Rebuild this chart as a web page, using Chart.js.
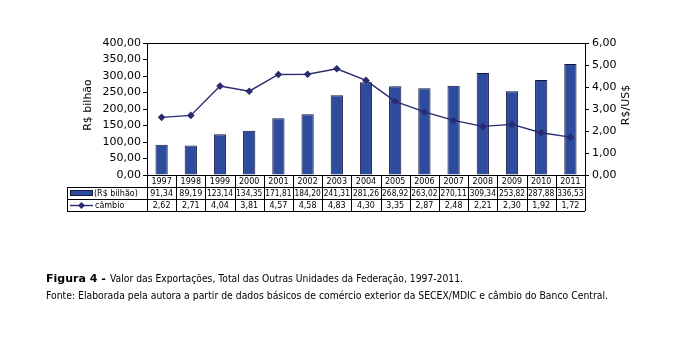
<!DOCTYPE html>
<html>
<head>
<meta charset="utf-8">
<script src="https://cdn.jsdelivr.net/npm/chart.js@4.4.1/dist/chart.umd.min.js"></script>
<style>
  html, body { margin: 0; padding: 0; background: #fff; }
  #wrap { position: relative; width: 689px; height: 352px; }
</style>
</head>
<body>
<div id="wrap"><canvas id="chart"></canvas></div>
<script>
// data (table under the chart)
const years = ["1997", "1998", "1999", "2000", "2001", "2002", "2003", "2004",
  "2005", "2006", "2007", "2008", "2009", "2010", "2011"];
const exportValues = [91.34, 89.19, 123.14, 134.35, 171.81, 184.20, 241.31, 281.26,
  268.92, 263.02, 270.11, 309.34, 253.82, 287.88, 336.53];
const exchangeRate = [2.62, 2.71, 4.04, 3.81, 4.57, 4.58, 4.83, 4.30,
  3.35, 2.87, 2.48, 2.21, 2.30, 1.92, 1.72];

const BAR_COLOR = "#2e4c9e";
const BAR_EDGE = "#14143c";
const LINE_COLOR = "#2a2a70";
const FONT = "'DejaVu Sans', Verdana, sans-serif";

const fmt = (v) => Number(v).toFixed(2).replace(".", ",");

function diamond(ctx, x, y, r) {
  ctx.beginPath();
  ctx.moveTo(x, y - r);
  ctx.lineTo(x + r, y);
  ctx.lineTo(x, y + r);
  ctx.lineTo(x - r, y);
  ctx.closePath();
  ctx.fill();
}

// draws the frame top, the data table, axis titles and caption
const tablePlugin = {
  id: "dataTable",
  afterDraw(chart) {
    const ctx = chart.ctx;
    const area = chart.chartArea;
    const n = years.length;
    const colW = (area.right - area.left) / n;
    const rowH = 12;
    const top = area.bottom;
    const labelLeft = 67;

    ctx.save();
    ctx.strokeStyle = "#000";
    ctx.lineWidth = 1;

    // top frame line
    ctx.beginPath();
    ctx.moveTo(area.left, Math.round(area.top) + 0.5);
    ctx.lineTo(area.right, Math.round(area.top) + 0.5);
    ctx.stroke();

    // horizontal table lines
    ctx.beginPath();
    ctx.moveTo(area.left, top + 0.5);
    ctx.lineTo(area.right, top + 0.5);
    for (let r = 1; r <= 3; r += 1) {
      const y = top + r * rowH + 0.5;
      ctx.moveTo(labelLeft, y);
      ctx.lineTo(area.right, y);
    }
    // verticals
    ctx.moveTo(labelLeft + 0.5, top + rowH);
    ctx.lineTo(labelLeft + 0.5, top + 3 * rowH);
    for (let i = 0; i <= n; i += 1) {
      const x = Math.round(area.left + i * colW) + 0.5;
      ctx.moveTo(x, top);
      ctx.lineTo(x, top + 3 * rowH);
    }
    ctx.stroke();

    // cell texts
    ctx.fillStyle = "#000";
    ctx.textAlign = "center";
    ctx.textBaseline = "middle";
    ctx.font = "8px " + FONT;
    years.forEach((yr, i) => {
      const cx = area.left + (i + 0.5) * colW;
      ctx.fillText(yr, cx, top + rowH * 0.5 + 0.5, colW - 3);
      ctx.fillText(fmt(exportValues[i]), cx, top + rowH * 1.5 + 0.5, colW - 3);
      ctx.fillText(fmt(exchangeRate[i]), cx, top + rowH * 2.5 + 0.5, colW - 3);
    });

    // legend keys
    const y1 = top + rowH * 1.5;
    const y2 = top + rowH * 2.5;
    ctx.fillStyle = BAR_COLOR;
    ctx.fillRect(70, y1 - 3, 23, 6);
    ctx.strokeStyle = BAR_EDGE;
    ctx.strokeRect(70.5, y1 - 2.5, 22, 5);
    ctx.strokeStyle = LINE_COLOR;
    ctx.lineWidth = 1.4;
    ctx.beginPath();
    ctx.moveTo(70, y2 + 0.5);
    ctx.lineTo(93, y2 + 0.5);
    ctx.stroke();
    ctx.lineWidth = 1;
    ctx.fillStyle = LINE_COLOR;
    diamond(ctx, 81.5, y2 + 0.5, 3.5);
    ctx.fillStyle = "#000";
    ctx.textAlign = "left";
    ctx.fillText("(R$ bilhão)", 94, y1 + 0.5);
    ctx.fillText("câmbio", 95, y2 + 0.5);

    // axis titles, both read bottom to top
    ctx.font = "11px " + FONT;
    ctx.textAlign = "center";
    const midY = (area.top + area.bottom) / 2 - 4;
    ctx.save();
    ctx.translate(88, midY);
    ctx.rotate(-Math.PI / 2);
    ctx.fillText("R$ bilhão", 0, 0);
    ctx.restore();
    ctx.save();
    ctx.translate(626, midY);
    ctx.rotate(-Math.PI / 2);
    ctx.fillText("R$/US$", 0, 0);
    ctx.restore();

    // caption
    ctx.textAlign = "left";
    ctx.font = "bold 11px " + FONT;
    const lead = "Figura 4 - ";
    ctx.fillText(lead, 46, 279, 64);
    ctx.font = "11px " + FONT;
    ctx.fillText("Valor das Exportações, Total das Outras Unidades da Federação, 1997-2011.",
      110, 279, 353);
    ctx.fillText("Fonte: Elaborada pela autora a partir de dados básicos de comércio exterior da SECEX/MDIC e câmbio do Banco Central.",
      46, 296, 562);
    ctx.restore();
  },
};

const tickFont = { family: FONT, size: 11 };

new Chart(document.getElementById("chart"), {
  type: "bar",
  data: {
    labels: years,
    datasets: [
      {
        type: "line",
        label: "câmbio",
        data: exchangeRate,
        yAxisID: "y2",
        borderColor: LINE_COLOR,
        backgroundColor: LINE_COLOR,
        borderWidth: 1.4,
        pointStyle: "rectRot",
        pointRadius: 3.8,
        pointBorderWidth: 0,
        tension: 0,
        order: 0,
      },
      {
        label: "(R$ bilhão)",
        data: exportValues,
        yAxisID: "y",
        backgroundColor: BAR_COLOR,
        borderColor: BAR_EDGE,
        borderWidth: 1,
        barPercentage: 0.42,
        categoryPercentage: 1,
        order: 1,
      },
    ],
  },
  options: {
    responsive: true,
    maintainAspectRatio: false,
    animation: false,
    layout: { padding: { top: 43, bottom: 177, left: 0, right: 0 } },
    plugins: { legend: { display: false }, tooltip: { enabled: false } },
    scales: {
      x: { display: false, offset: true },
      y: {
        position: "left",
        min: 0,
        max: 400,
        ticks: { stepSize: 50, color: "#000", font: tickFont, padding: 2, callback: (v) => fmt(v) },
        grid: { drawOnChartArea: false, drawTicks: true, tickLength: 4, color: "#000" },
        border: { display: true, color: "#000", width: 1 },
        afterFit: (scale) => { scale.width = 147; },
      },
      y2: {
        position: "right",
        min: 0,
        max: 6,
        ticks: { stepSize: 1, color: "#000", font: tickFont, padding: 3, callback: (v) => fmt(v) },
        grid: { drawOnChartArea: false, drawTicks: true, tickLength: 4, color: "#000" },
        border: { display: true, color: "#000", width: 1 },
        afterFit: (scale) => { scale.width = 104; },
      },
    },
  },
  plugins: [tablePlugin],
});
</script>
</body>
</html>
